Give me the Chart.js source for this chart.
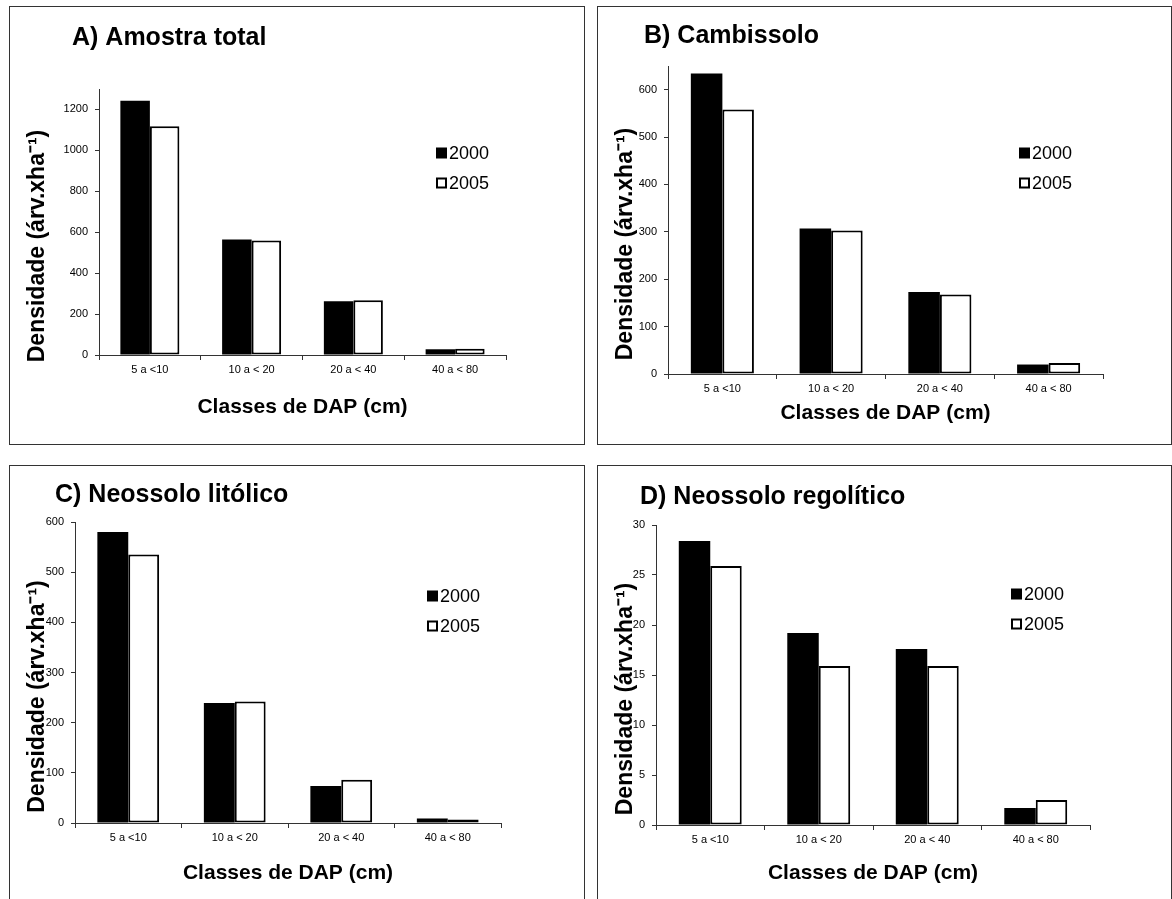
<!DOCTYPE html>
<html>
<head>
<meta charset="utf-8">
<script src="https://cdn.jsdelivr.net/npm/chart.js@4.4.0/dist/chart.umd.min.js"></script>
<style>
  html, body { margin: 0; padding: 0; background: #fff; overflow: hidden; }
  .painel { position: absolute; border: 1px solid #333; box-sizing: border-box; background: #fff; }
  .painel canvas { display: block; }
</style>
</head>
<body>
<div class="painel" style="left:9px;top:6px;width:576px;height:439px"><canvas id="graficoA" width="574" height="437"></canvas></div>
<div class="painel" style="left:597px;top:6px;width:575px;height:439px"><canvas id="graficoB" width="573" height="437"></canvas></div>
<div class="painel" style="left:9px;top:465px;width:576px;height:439px"><canvas id="graficoC" width="574" height="437"></canvas></div>
<div class="painel" style="left:597px;top:465px;width:575px;height:439px"><canvas id="graficoD" width="573" height="437"></canvas></div>

<script>
// Dados
const classes = ['5 a <10', '10 a < 20', '20 a < 40', '40 a < 80'];
const anos = ['2000', '2005'];

const amostraTotal2000 = [1242, 564, 263, 28];
const amostraTotal2005 = [1118, 559, 268, 31];
const cambissolo2000 = [634, 307, 173, 20];
const cambissolo2005 = [558, 303, 168, 23];
const litolico2000 = [580, 239, 74, 9];
const litolico2005 = [535, 242, 86, 7];
const regolitico2000 = [28.4, 19.2, 17.6, 1.7];
const regolitico2005 = [25.9, 15.9, 15.9, 2.5];

const ticksA = [0, 200, 400, 600, 800, 1000, 1200];
const ticksB = [0, 100, 200, 300, 400, 500, 600];
const ticksC = [0, 100, 200, 300, 400, 500, 600];
const ticksD = [0, 5, 10, 15, 20, 25, 30];

const tituloEixoY = 'Densidade (árv.xha⁻¹)';
const tituloEixoX = 'Classes de DAP (cm)';

const FONTE = '"Liberation Sans", Arial, Helvetica, sans-serif';

// título do painel e título do eixo Y
const painelTitulo = {
  id: 'painelTitulo',
  afterDraw(chart, args, opts) {
    const ctx = chart.ctx;
    const area = chart.chartArea;
    ctx.save();
    ctx.font = 'bold 25px ' + FONTE;
    ctx.fillStyle = '#000';
    ctx.textAlign = 'left';
    ctx.textBaseline = 'middle';
    ctx.fillText(opts.text, opts.x, opts.y);

    // eixo Y (um pouco abaixo do centro, como no original)
    ctx.translate(opts.yTitleX, (area.top + area.bottom) / 2 + 24);
    ctx.rotate(-Math.PI / 2);
    ctx.font = 'bold 23px ' + FONTE;
    ctx.textAlign = 'center';
    ctx.fillText(tituloEixoY, 0, 0);
    ctx.restore();
  }
};

// legenda dentro da área do gráfico
const legendaInterna = {
  id: 'legendaInterna',
  afterDraw(chart, args, opts) {
    const ctx = chart.ctx;
    ctx.save();
    ctx.font = '18px ' + FONTE;
    ctx.textAlign = 'left';
    ctx.textBaseline = 'middle';
    chart.data.datasets.forEach((ds, i) => {
      const y = opts.y + i * opts.gap;
      ctx.fillStyle = '#000';
      ctx.fillRect(opts.x, y - 5.5, 11, 11);
      if (ds.backgroundColor !== '#000') {
        ctx.fillStyle = ds.backgroundColor;
        ctx.fillRect(opts.x + 2, y - 3.5, 7, 7);
      }
      ctx.fillStyle = '#000';
      ctx.fillText(ds.label, opts.x + 13, y + 1);
    });
    ctx.restore();
  }
};

function criarGrafico(id, serie2000, serie2005, yMax, yTicks, p) {
  const W = p.W, H = p.H;
  const padLeft = 10;
  const yWidth = p.left - padLeft;
  const xTitleLH = 21 * 1.2;
  const xBottom = p.xTitleY + xTitleLH / 2;
  const xHeight = xBottom - p.bottom;

  return new Chart(document.getElementById(id), {
    type: 'bar',
    data: {
      labels: classes,
      datasets: [
        { label: anos[0], data: serie2000, backgroundColor: '#000', borderColor: '#000', borderWidth: 0 },
        { label: anos[1], data: serie2005, backgroundColor: '#fff', borderColor: '#000', borderWidth: 2, borderSkipped: false }
      ]
    },
    options: {
      responsive: false,
      animation: false,
      devicePixelRatio: 1,
      events: [],
      categoryPercentage: 0.58,
      barPercentage: 1.0,
      layout: { padding: { left: padLeft, right: W - p.right, top: p.top, bottom: H - xBottom } },
      plugins: {
        legend: { display: false },
        tooltip: { enabled: false },
        painelTitulo: { text: p.titulo, x: p.tx, y: p.ty, yTitleX: 28 },
        legendaInterna: { x: p.lx, y: p.ly, gap: 30 }
      },
      scales: {
        x: {
          grid: { offset: true, drawOnChartArea: false, drawTicks: true, tickLength: 5, color: '#333' },
          border: { display: true, color: '#333', width: 1 },
          ticks: { color: '#000', font: { family: FONTE, size: 11 }, padding: 3, maxRotation: 0 },
          title: { display: true, text: tituloEixoX, color: '#000', font: { family: FONTE, size: 21, weight: 'bold' }, padding: 0 },
          afterFit: (scale) => { scale.height = xHeight; }
        },
        y: {
          min: 0,
          max: yMax,
          grid: { drawOnChartArea: false, drawTicks: true, tickLength: 4, color: '#333' },
          border: { display: true, color: '#333', width: 1 },
          ticks: { color: '#000', font: { family: FONTE, size: 11 }, padding: 7, callback: (v) => String(v) },
          afterBuildTicks: (scale) => { scale.ticks = yTicks.map(v => ({ value: v })); },
          title: { display: false },
          afterFit: (scale) => { scale.width = yWidth; }
        }
      }
    },
    plugins: [painelTitulo, legendaInterna]
  });
}

criarGrafico('graficoA', amostraTotal2000, amostraTotal2005, 1300, ticksA, {
  W: 574, H: 437, left: 89, right: 496, top: 82, bottom: 348,
  xTitleY: 400, titulo: 'A) Amostra total', tx: 62, ty: 31, lx: 426, ly: 146
});
criarGrafico('graficoB', cambissolo2000, cambissolo2005, 650, ticksB, {
  W: 573, H: 437, left: 70, right: 505, top: 59, bottom: 367,
  xTitleY: 406, titulo: 'B) Cambissolo', tx: 46, ty: 29, lx: 421, ly: 146
});
criarGrafico('graficoC', litolico2000, litolico2005, 600, ticksC, {
  W: 574, H: 437, left: 65, right: 491, top: 56, bottom: 357,
  xTitleY: 407, titulo: 'C) Neossolo litólico', tx: 45, ty: 29, lx: 417, ly: 130
});
criarGrafico('graficoD', regolitico2000, regolitico2005, 30, ticksD, {
  W: 573, H: 437, left: 58, right: 492, top: 59, bottom: 359,
  xTitleY: 407, titulo: 'D) Neossolo regolítico', tx: 42, ty: 31, lx: 413, ly: 128
});
</script>
</body>
</html>
